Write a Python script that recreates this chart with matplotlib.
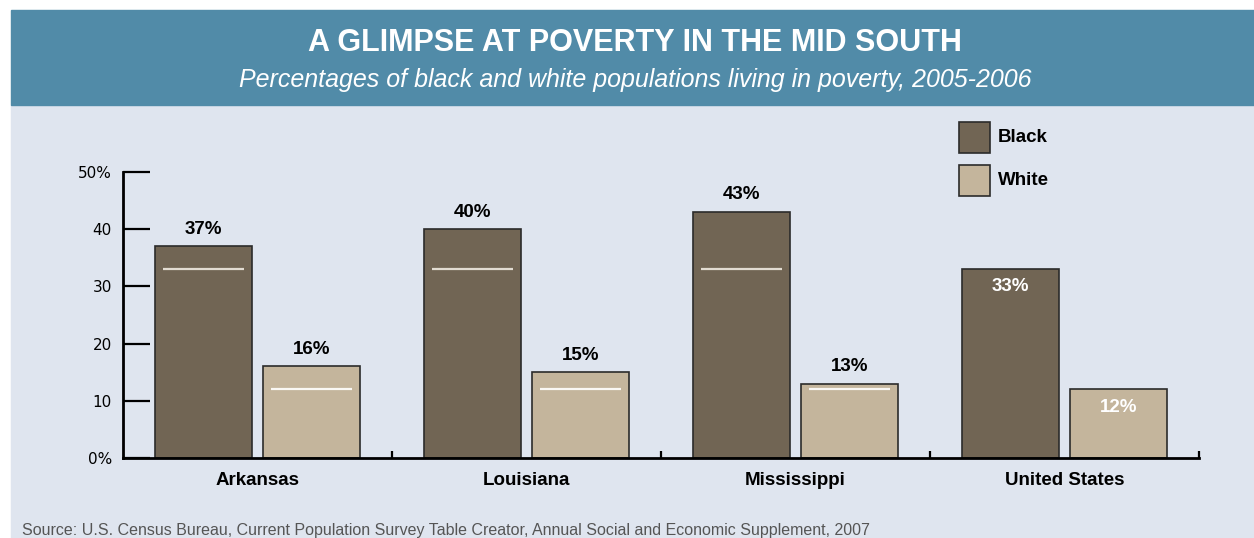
import matplotlib
matplotlib.use('Agg')
import matplotlib.pyplot as plt
from matplotlib.patches import Rectangle
import numpy as np

plt.rcParams['font.family'] = ['Liberation Sans', 'DejaVu Sans']

# poverty rates 2005-2006, percent
regions = ['Arkansas', 'Louisiana', 'Mississippi', 'United States']
black = [37, 40, 43, 33]
white = [16, 15, 13, 12]
yticks = [0, 10, 20, 30, 40, 50]
ytick_labels = ['0%', '10', '20', '30', '40', '50%']

c_black = '#716554'
c_white = '#C4B59C'
c_head = '#518BA8'
c_panel = '#DFE5EF'

W, H = 1254, 538
fig = plt.figure(figsize=(W / 100, H / 100), dpi=100, facecolor='white')

# header band and light panel (behind the axes)
fig.patches.append(Rectangle((11 / W, 0), 1 - 11 / W, (H - 105) / H,
                             transform=fig.transFigure, color=c_panel, zorder=-2))
fig.patches.append(Rectangle((11 / W, (H - 105) / H), 1 - 11 / W, 95 / H,
                             transform=fig.transFigure, color=c_head, zorder=-2))
fig.text(635 / W, 1 - 43 / H, 'A GLIMPSE AT POVERTY IN THE MID SOUTH',
         color='white', fontsize=22, fontweight='bold', ha='center', va='center')
fig.text(635 / W, 1 - 80 / H,
         'Percentages of black and white populations living in poverty, 2005-2006',
         color='white', fontsize=18, style='italic', ha='center', va='center')

ax = fig.add_axes([123 / W, 80 / H, (1199 - 123) / W, 286 / H])
ax.set_facecolor('none')
ax.set_zorder(1)

x = np.arange(len(regions))
bw = 0.36
xb = x + 0.3
xw = x + 0.7
ax.bar(xb, black, width=bw, color=c_black, edgecolor='#2b2b2b', linewidth=1.2, zorder=2)
ax.bar(xw, white, width=bw, color=c_white, edgecolor='#2b2b2b', linewidth=1.2, zorder=2)

# US reference lines inside the state bars
us_black, us_white = black[-1], white[-1]
inset = 0.03
for i in range(len(regions) - 1):
    ax.plot([xb[i] - bw / 2 + inset, xb[i] + bw / 2 - inset], [us_black, us_black],
            color='#E2DCD2', lw=1.6, zorder=3, solid_capstyle='butt')
    ax.plot([xw[i] - bw / 2 + inset, xw[i] + bw / 2 - inset], [us_white, us_white],
            color='#FAF8F4', lw=1.6, zorder=3, solid_capstyle='butt')

# value labels
for i in range(len(regions)):
    if regions[i] == 'United States':
        ax.text(xb[i], black[i] - 1.6, '%d%%' % black[i], ha='center', va='top',
                fontsize=13.5, fontweight='bold', color='white', zorder=4)
        ax.text(xw[i], white[i] - 1.6, '%d%%' % white[i], ha='center', va='top',
                fontsize=13.5, fontweight='bold', color='white', zorder=4)
    else:
        ax.text(xb[i], black[i] + 1.5, '%d%%' % black[i], ha='center', va='bottom',
                fontsize=13.5, fontweight='bold', color='black')
        ax.text(xw[i], white[i] + 1.5, '%d%%' % white[i], ha='center', va='bottom',
                fontsize=13.5, fontweight='bold', color='black')

ax.set_xlim(0, 4)
ax.set_ylim(0, 50)
ax.set_yticks(yticks)
ax.set_yticklabels(ytick_labels, fontsize=11, family='DejaVu Sans')
ax.tick_params(axis='y', direction='in', length=19.5, width=1.6, pad=8)

ax.set_xticks(x + 0.5)
ax.set_xticklabels(regions, fontsize=13.5, fontweight='bold')
ax.set_xticks([1, 2, 3, 4], minor=True)
ax.tick_params(axis='x', which='major', length=0, pad=10)
ax.tick_params(axis='x', which='minor', direction='in', length=5, width=1.6)

for s in ['top', 'right']:
    ax.spines[s].set_visible(False)
ax.spines['left'].set_linewidth(2)
ax.spines['bottom'].set_linewidth(2)

# legend
for label, col, ytop in [('Black', c_black, 122), ('White', c_white, 165)]:
    fig.patches.append(Rectangle((959 / W, 1 - (ytop + 31) / H), 31 / W, 31 / H,
                                 transform=fig.transFigure, facecolor=col,
                                 edgecolor='#2b2b2b', linewidth=1.2, zorder=3))
    fig.text(998 / W, 1 - (ytop + 16) / H, label, fontsize=13.5, fontweight='bold',
             ha='left', va='center')

fig.text(22 / W, 1 - 530 / H,
         'Source: U.S. Census Bureau, Current Population Survey Table Creator, '
         'Annual Social and Economic Supplement, 2007',
         fontsize=11.5, color='#555555', ha='left', va='center',
         family=['Liberation Sans Narrow', 'Liberation Sans'])

fig.savefig('out.png', dpi=100, facecolor='white')
